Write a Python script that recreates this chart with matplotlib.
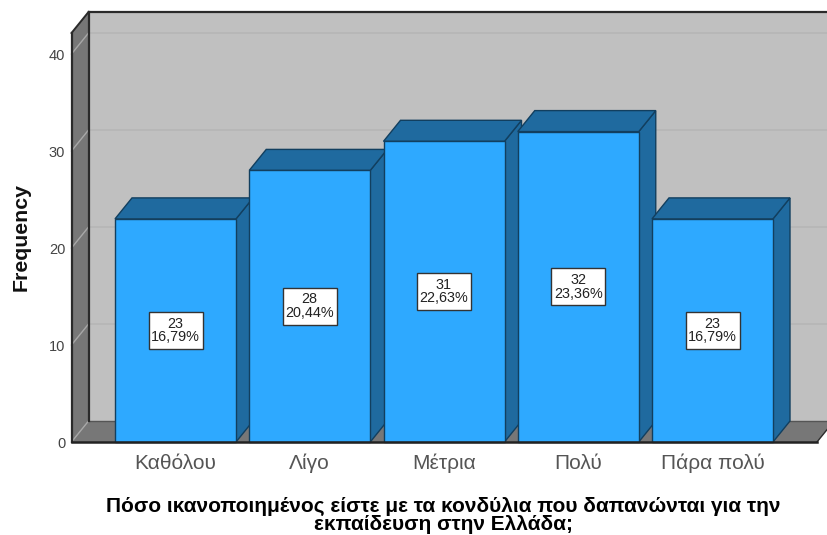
import numpy as np
import matplotlib
matplotlib.use('Agg')
import matplotlib.pyplot as plt
from matplotlib.patches import Polygon, Rectangle

plt.rcParams['font.family'] = ['Liberation Sans', 'DejaVu Sans']

categories = ['Καθόλου', 'Λίγο', 'Μέτρια', 'Πολύ', 'Πάρα πολύ']
counts = [23, 28, 31, 32, 23]
percents = ['16,79%', '20,44%', '22,63%', '23,36%', '16,79%']
yticks = [0, 10, 20, 30, 40]
xlabel = 'Πόσο ικανοποιημένος είστε με τα κονδύλια που δαπανώνται για την\nεκπαίδευση στην Ελλάδα;'

W, H = 827, 535
fig = plt.figure(figsize=(W / 100, H / 100), dpi=100)
# axes = front plane of the 3d box, in pixels
left, right, bottom, top = 71.5, 817, 442, 33
ax = fig.add_axes([left / W, 1 - bottom / H, (right - left) / W, (bottom - top) / H])

px_per_cat = 134.25
px_per_val = 9.7
ax.set_xlim((left - 175.5) / px_per_cat, (right - 175.5) / px_per_cat)
ax.set_ylim(0, (bottom - top) / px_per_val)
x0, x1 = ax.get_xlim()
y0, y1 = ax.get_ylim()

# depth of the box
dx = 17 / px_per_cat
dy = 21 / px_per_val
bar_w = 121 / px_per_cat
box_w = 54 / px_per_cat
box_h = 37 / px_per_val

wall = '#777777'
back = '#C0C0C0'
edge = '#2a2a2a'
face = '#2EA9FF'
dark = '#1F6A9F'
bar_edge = '#123F5F'


def poly(pts, fc, ec='none', lw=0.0, z=1):
    ax.add_patch(Polygon(pts, closed=True, facecolor=fc, edgecolor=ec, linewidth=lw,
                         zorder=z, clip_on=False, joinstyle='miter'))


# back wall, floor, left wall
poly([(x0 + dx, y0 + dy), (x1 + dx, y0 + dy), (x1 + dx, y1 + dy), (x0 + dx, y1 + dy)], back)
poly([(x0, y0), (x1, y0), (x1 + dx, y0 + dy), (x0 + dx, y0 + dy)], wall)
poly([(x0, y0), (x0 + dx, y0 + dy), (x0 + dx, y1 + dy), (x0, y1)], wall)

for t in yticks:
    if t > 0:
        ax.plot([x0 + dx, x1 + dx], [t + dy, t + dy], color='#B6B6B6', lw=1.2, zorder=2, clip_on=False)
    ax.plot([x0, x0 + dx], [t, t + dy], color='#A8A8A8', lw=1.0, zorder=2, clip_on=False)

ax.plot([x1, x1 + dx], [y0, y0 + dy], color=edge, lw=1.0, zorder=2, clip_on=False)
ax.plot([x0 + dx, x1 + dx], [y0 + dy, y0 + dy], color='#555555', lw=1.0, zorder=2, clip_on=False)
ax.plot([x0 + dx, x1 + dx], [y1 + dy, y1 + dy], color=edge, lw=1.6, zorder=2, clip_on=False)
ax.plot([x0 + dx, x0 + dx], [y0 + dy, y1 + dy], color=edge, lw=1.6, zorder=2, clip_on=False)
ax.plot([x0, x0], [y0, y1], color=edge, lw=1.6, zorder=2, clip_on=False)
ax.plot([x0, x0 + dx], [y1, y1 + dy], color=edge, lw=1.4, zorder=2, clip_on=False)

# bars
for i, (c, v, p) in enumerate(zip(categories, counts, percents)):
    l, r = i - bar_w / 2, i + bar_w / 2
    z = 3 + i
    poly([(r, 0), (r + dx, dy), (r + dx, v + dy), (r, v)], dark, bar_edge, 1.0, z)
    poly([(l, v), (r, v), (r + dx, v + dy), (l + dx, v + dy)], dark, bar_edge, 1.0, z)
    ax.bar(i, v, width=bar_w, color=face, edgecolor=bar_edge, linewidth=1.0, zorder=z + 0.1, clip_on=False)
    ax.add_patch(Rectangle((i - box_w / 2, v / 2 - box_h / 2), box_w, box_h, facecolor='white',
                           edgecolor='#333333', linewidth=1.0, zorder=19))
    ax.text(i, v / 2, f'{v}\n{p}', ha='center', va='center', fontsize=10.4, color='#222222',
            linespacing=0.95, zorder=20)

ax.plot([x0, x1], [y0, y0], color='#222222', lw=1.8, zorder=15, clip_on=False)

for s in ax.spines.values():
    s.set_visible(False)
ax.patch.set_visible(False)
ax.set_xticks(range(len(categories)))
ax.set_xticklabels(categories, fontsize=15, color='#555555', va='baseline')
ax.set_yticks(yticks)
ax.set_yticklabels([str(t) for t in yticks], fontsize=10.5, color='#444444')
ax.tick_params(axis='x', length=0, pad=19.5)
ax.tick_params(axis='y', length=0, pad=4.5)

fig.text(21 / W, 1 - 237 / H, 'Frequency', rotation=90, ha='center', va='center',
         fontsize=15.3, fontweight='bold', color='#111111')
fig.text(443.5 / W, 1 - 515.5 / H, xlabel, ha='center', va='center', fontsize=15,
         fontweight='bold', color='black', linespacing=0.95)

fig.savefig('out.png', dpi=100)
